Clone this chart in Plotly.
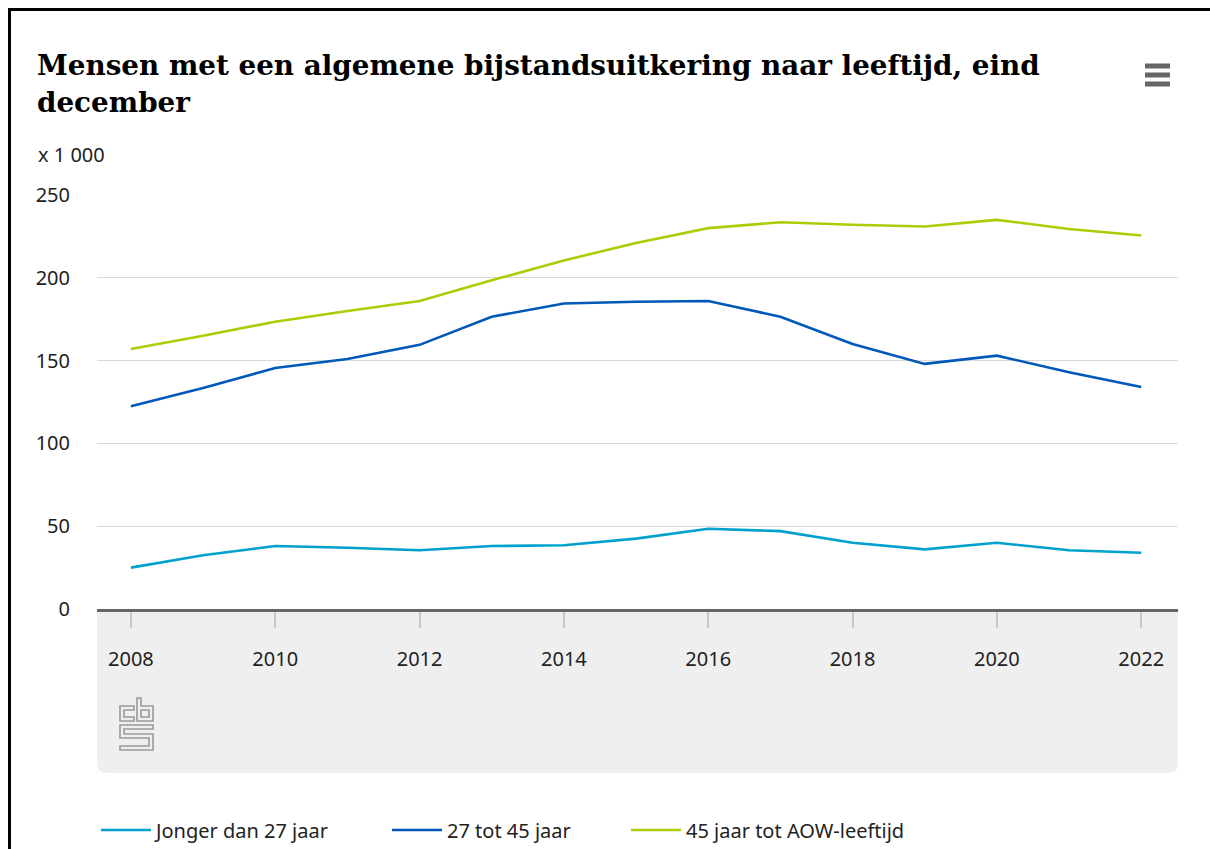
import plotly.graph_objects as go

# ---------------- data ----------------
years = list(range(2008, 2023))
jonger_dan_27 = [25, 32.5, 38, 37, 35.5, 38, 38.5, 42.5, 48.5, 47, 40, 36, 40, 35.5, 34]
tot_45 = [122.5, 133.5, 145.5, 151, 159.5, 176.5, 184.5, 185.5, 186, 176.5, 160, 148, 153, 143, 134]
tot_aow = [157, 165, 173.5, 180, 186, 198.5, 210.5, 221, 230, 233.5, 232, 231, 235, 229.5, 225.5]
series_names = ["Jonger dan 27 jaar", "27 tot 45 jaar", "45 jaar tot AOW-leeftijd"]
series_colors = ["#00a1cd", "#0058b8", "#afcb05"]
x_ticks = list(range(2008, 2023, 2))
y_ticks = [0, 50, 100, 150, 200, 250]
title_line1 = "Mensen met een algemene bijstandsuitkering naar leeftijd, eind"
title_line2 = "december"
unit_label = "x 1 000"

# ---------------- layout geometry (pixels) ----------------
W, H = 1210, 849
L, R, T, B = 97, 1178, 195, 609


def px(x):
    return (x - L) / (R - L)


def py(y):
    return (B - y) / (B - T)


legend_ids = ["legend", "legend2", "legend3"]
legend_x = [96, 387, 626]

fig = go.Figure()
for name, vals, col, lid in zip(series_names, [jonger_dan_27, tot_45, tot_aow], series_colors, legend_ids):
    fig.add_trace(go.Scatter(x=years, y=vals, name=name, mode="lines", legend=lid,
                             line=dict(color=col, width=2.6)))

tick_font = dict(family="Noto Sans, Open Sans, sans-serif", size=20, color="#222222")

legend_common = dict(orientation="h", xanchor="left", y=py(830), yanchor="middle",
                     font=tick_font, itemwidth=50, bgcolor="rgba(0,0,0,0)")

fig.update_layout(
    width=W, height=H,
    margin=dict(l=L, r=W - R, t=T, b=H - B, pad=0, autoexpand=False),
    paper_bgcolor="white", plot_bgcolor="white",
    showlegend=True,
    legend=dict(x=px(legend_x[0]), **legend_common),
    legend2=dict(x=px(legend_x[1]), **legend_common),
    legend3=dict(x=px(legend_x[2]), **legend_common),
    xaxis=dict(range=[2007.53, 2022.51], tickvals=x_ticks, ticks="outside", ticklen=16,
               tickcolor="#c8c8c8", tickwidth=1.5, showgrid=False, showline=True,
               linecolor="#666666", linewidth=3, tickfont=tick_font, ticklabelstandoff=14,
               zeroline=False, fixedrange=True),
    yaxis=dict(range=[0, 250], tickvals=y_ticks, showgrid=True, gridcolor="#d9d9d9",
               gridwidth=1.2, zeroline=False, showline=False, ticks="",
               tickfont=tick_font, ticklabelstandoff=26, fixedrange=True),
)

shapes = []
# grey area under the x axis with rounded bottom corners
r = 10
box_path = (f"M{px(L)},{py(B)} L{px(L)},{py(773 - r)} Q{px(L)},{py(773)} {px(L + r)},{py(773)} "
            f"L{px(R - r)},{py(773)} Q{px(R)},{py(773)} {px(R)},{py(773 - r)} L{px(R)},{py(B)} Z")
shapes.append(dict(type="path", xref="paper", yref="paper", path=box_path,
                   fillcolor="#efefef", line=dict(width=0), layer="below"))


def poly(points):
    return "M" + " L".join(f"{px(a)},{py(b)}" for a, b in points) + " Z"


logo_parts = [
    [(134, 710), (134, 706), (120, 706), (120, 721), (134, 721), (134, 717), (124, 717), (124, 710)],
    [(137, 698), (141, 698), (141, 706), (153, 706), (153, 721), (137, 721)],
    [(141, 710), (149, 710), (149, 717), (141, 717)],
    [(153, 725), (120, 725), (120, 738), (149, 738), (149, 746), (120, 746), (120, 750),
     (153, 750), (153, 734), (124, 734), (124, 729), (153, 729)],
]
for part in logo_parts:
    shapes.append(dict(type="path", xref="paper", yref="paper", path=poly(part),
                       line=dict(color="#9a9a9a", width=1.6), fillcolor="rgba(0,0,0,0)"))

# hamburger menu icon
for yy in (66, 75, 84):
    shapes.append(dict(type="line", xref="paper", yref="paper", x0=px(1145), x1=px(1170),
                       y0=py(yy), y1=py(yy), line=dict(color="#666666", width=5)))

# black frame (top and left)
shapes.append(dict(type="line", xref="paper", yref="paper", x0=px(8), x1=px(1210),
                   y0=py(9.5), y1=py(9.5), line=dict(color="black", width=3)))
shapes.append(dict(type="line", xref="paper", yref="paper", x0=px(9.5), x1=px(9.5),
                   y0=py(8), y1=py(849), line=dict(color="black", width=3)))
fig.update_layout(shapes=shapes)

title_font = dict(family="DejaVu Serif, serif", size=27.8, color="#000000")
fig.add_annotation(text=f"<b>{title_line1}</b>", xref="paper", yref="paper",
                   x=px(35), y=py(66), xanchor="left", yanchor="middle",
                   showarrow=False, font=title_font)
fig.add_annotation(text=f"<b>{title_line2}</b>", xref="paper", yref="paper",
                   x=px(35), y=py(103), xanchor="left", yanchor="middle",
                   showarrow=False, font=title_font)
fig.add_annotation(text=unit_label, xref="paper", yref="paper",
                   x=px(36), y=py(154), xanchor="left", yanchor="middle",
                   showarrow=False, font=tick_font)

fig.write_html("out.html", config={"displayModeBar": False},
               post_script="document.body.style.margin='0';document.body.style.overflow='hidden';")
